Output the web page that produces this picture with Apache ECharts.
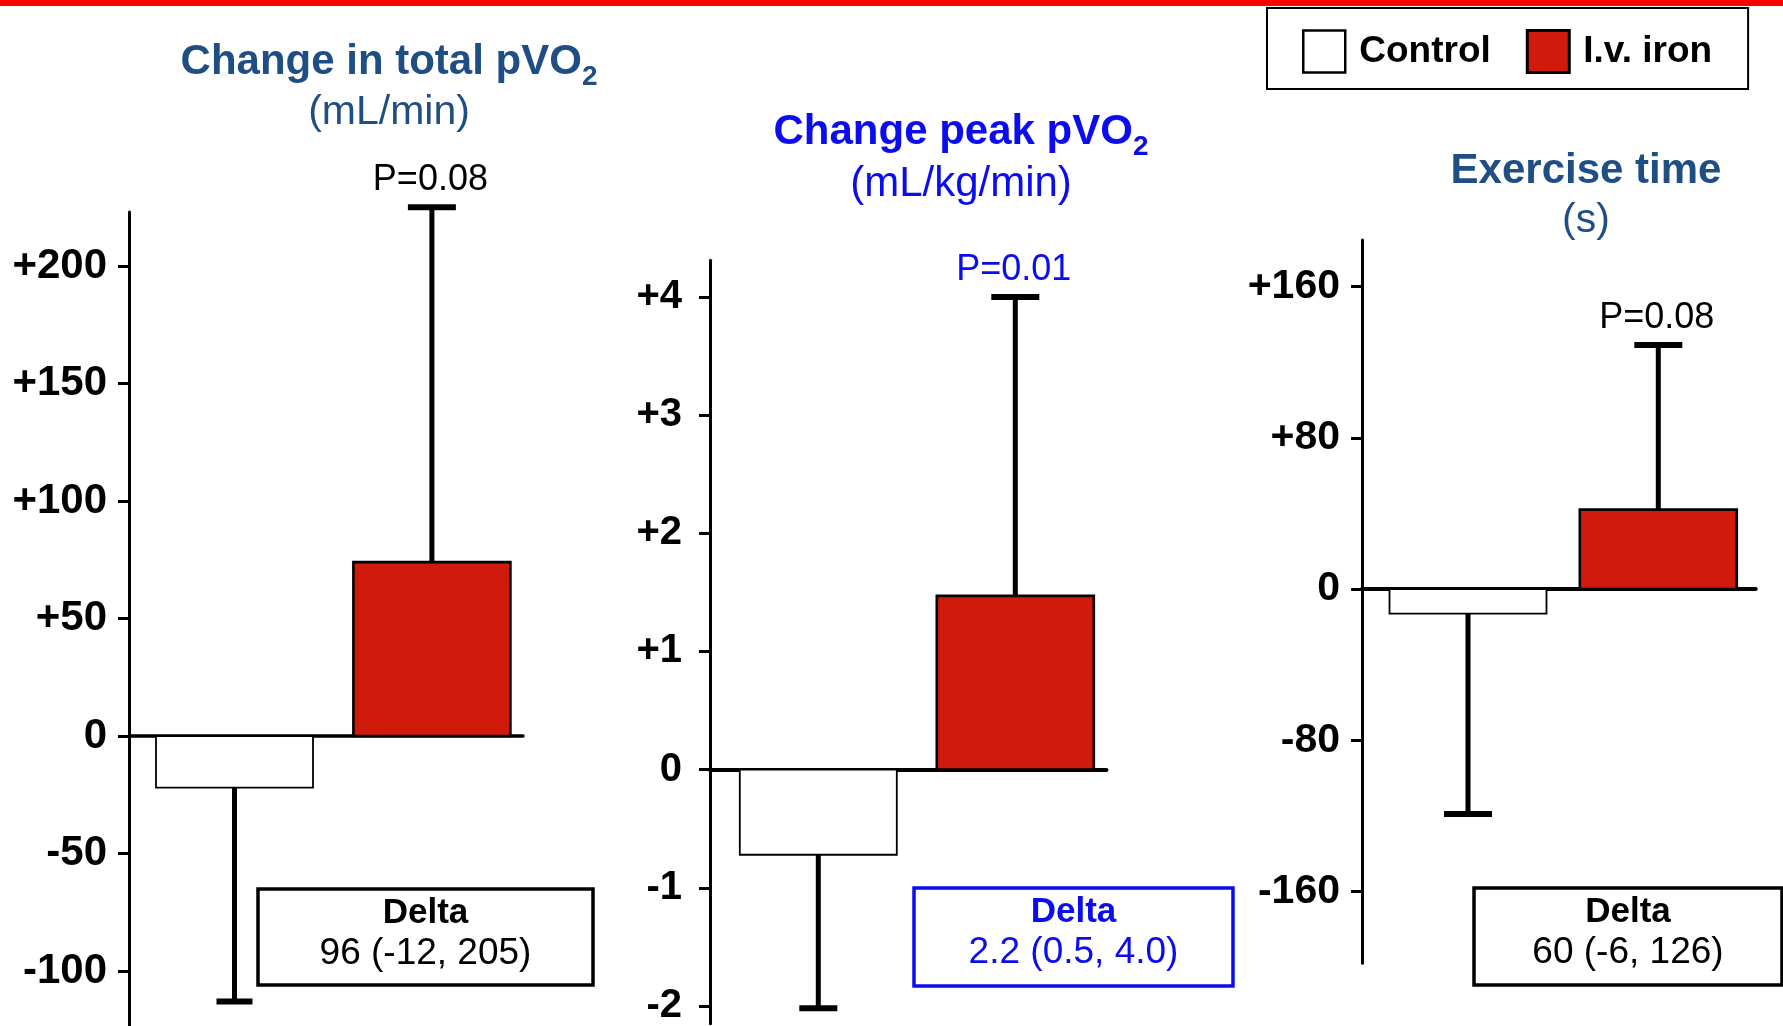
<!DOCTYPE html>
<html>
<head>
<meta charset="utf-8">
<script src="https://cdn.jsdelivr.net/npm/echarts@6/dist/echarts.min.js"></script>
<style>
  html, body { margin: 0; padding: 0; background: #ffffff; }
  #chart { width: 1783px; height: 1026px; }
</style>
</head>
<body>
<div id="chart"></div>
<script>
// ---- data ----
const groups = ['Control', 'I.v. iron'];

const totalMeans = [-22, 74];
const totalErrEnds = [-113, 225];
const totalTicks = [-100, -50, 0, 50, 100, 150, 200];

const peakMeans = [-0.72, 1.47];
const peakErrEnds = [-2.02, 4.0];
const peakTicks = [-2, -1, 0, 1, 2, 3, 4];

const exerciseMeans = [-13, 42];
const exerciseErrEnds = [-119, 129];
const exerciseTicks = [-160, -80, 0, 80, 160];

const titles = ['Change in total pVO', 'Change peak pVO', 'Exercise time'];
const titleSubscripts = ['2', '2', ''];
const units = ['(mL/min)', '(mL/kg/min)', '(s)'];
const pLabels = ['P=0.08', 'P=0.01', 'P=0.08'];
const deltaLabels = ['96 (-12, 205)', '2.2 (0.5, 4.0)', '60 (-6, 126)'];

// ---- styles ----
const FONT = "'Liberation Sans', Arial, Helvetica, sans-serif";
const STEEL = '#1F4E85';
const BLUE = '#0C0CF0';
const RED = '#D01A0C';
const groupFill = ['#ffffff', RED];
const groupBorder = [1.8, 2.6];

// ---- layout of the three panels (pixels) ----
const panels = [
  { means: totalMeans, errs: totalErrEnds, ticks: totalTicks,
    zeroY: 736, ppu: 2.35, yMax: 223, yMin: -123.4,
    axisX: 129, endX: 523, ctrlC: 234.5, ironC: 431.9, barW: 157, capW: [36, 48],
    tickFont: 42, labelMargin: 22, zeroW: 3.5,
    accent: STEEL, pColor: '#000', deltaColor: '#000',
    titleX: 389, titleY: 62, unitY: 113, unitFont: 41,
    box: [258, 889, 335, 96] },
  { means: peakMeans, errs: peakErrEnds, ticks: peakTicks,
    zeroY: 771, ppu: 118.5, yMax: 4.31, yMin: -2.15,
    axisX: 710, endX: 1106.5, ctrlC: 818.3, ironC: 1015.3, barW: 157, capW: [38, 48],
    tickFont: 40, labelMargin: 28, zeroW: 4,
    accent: BLUE, pColor: BLUE, deltaColor: BLUE,
    titleX: 961, titleY: 132, unitY: 184, unitFont: 42,
    box: [914, 888, 319, 98] },
  { means: exerciseMeans, errs: exerciseErrEnds, ticks: exerciseTicks,
    zeroY: 589, ppu: 1.8906, yMax: 184.6, yMin: -198,
    axisX: 1362, endX: 1755.7, ctrlC: 1468, ironC: 1658.3, barW: 157, capW: [48, 48],
    tickFont: 41, labelMargin: 22, zeroW: 4,
    accent: STEEL, pColor: '#000', deltaColor: '#000',
    titleX: 1586, titleY: 171, unitY: 221, unitFont: 41,
    box: [1474, 888, 308, 97] }
];
panels.forEach((p, i) => {
  p.title = titles[i]; p.sub = titleSubscripts[i]; p.unit = units[i];
  p.pLabel = pLabels[i]; p.delta = deltaLabels[i];
});

function tickText(v) {
  if (v > 0) return '+' + v;
  return String(v);
}

function makeRender(panel, gi) {
  return function (params, api) {
    const x = api.value(0), m = api.value(1), e = api.value(2);
    const p0 = api.coord([x, 0]);
    const pm = api.coord([x, m]);
    const pe = api.coord([x, e]);
    const cx = p0[0];
    const capW = panel.capW[gi];
    const children = [
      { type: 'line', shape: { x1: cx, y1: pm[1], x2: cx, y2: pe[1] },
        style: { stroke: '#000', lineWidth: 5 } },
      { type: 'rect', shape: { x: cx - capW / 2, y: pe[1] - 3, width: capW, height: 6 },
        style: { fill: '#000' } },
      { type: 'rect',
        shape: { x: cx - panel.barW / 2, y: Math.min(p0[1], pm[1]),
                 width: panel.barW, height: Math.abs(pm[1] - p0[1]) },
        style: { fill: groupFill[gi], stroke: '#000', lineWidth: groupBorder[gi] } }
    ];
    if (gi === 1) {
      children.push({ type: 'text', x: cx - 1.5, y: pe[1] - 27,
        style: { text: panel.pLabel, fill: panel.pColor, fontSize: 36, fontFamily: FONT,
                 align: 'center', verticalAlign: 'middle' } });
    }
    return { type: 'group', children: children };
  };
}

const grid = [], xAxis = [], yAxis = [], series = [], graphic = [];

// top red rule
graphic.push({ type: 'rect', shape: { x: 0, y: 0, width: 1783, height: 6 },
  style: { fill: '#FF0000' }, z: 10 });

panels.forEach((p, i) => {
  const unit = p.ironC - p.ctrlC;
  grid.push({ left: p.axisX, top: p.zeroY - p.yMax * p.ppu,
              width: p.endX - p.axisX, height: (p.yMax - p.yMin) * p.ppu });
  xAxis.push({ type: 'value', gridIndex: i,
    min: (p.axisX - p.ctrlC) / unit, max: (p.endX - p.ctrlC) / unit,
    axisLine: { show: true, onZero: true, lineStyle: { color: '#000', width: p.zeroW } },
    axisTick: { show: false }, axisLabel: { show: false }, splitLine: { show: false } });
  yAxis.push({ type: 'value', gridIndex: i, min: p.yMin, max: p.yMax,
    axisLine: { show: true, onZero: false, lineStyle: { color: '#000', width: 3 } },
    axisTick: { show: true, length: 11, customValues: p.ticks,
                lineStyle: { color: '#000', width: 3 } },
    axisLabel: { show: true, customValues: p.ticks, formatter: tickText,
                 margin: p.labelMargin, color: '#000', fontSize: p.tickFont,
                 fontWeight: 'bold', fontFamily: FONT, padding: [5, 0, 0, 0] },
    splitLine: { show: false } });

  groups.forEach((g, gi) => {
    series.push({ type: 'custom', name: g, xAxisIndex: i, yAxisIndex: i,
      itemStyle: { color: groupFill[gi], borderColor: '#000', borderWidth: groupBorder[gi] },
      renderItem: makeRender(p, gi),
      data: [[gi, p.means[gi], p.errs[gi]]],
      silent: true, z: 3 });
  });

  // panel title, with a lowered subscript
  const rich = {
    m: { fontSize: 42, fontWeight: 'bold', fontFamily: FONT, color: p.accent,
         lineHeight: 58, verticalAlign: 'middle' },
    s: { fontSize: 28, fontWeight: 'bold', fontFamily: FONT, color: p.accent,
         verticalAlign: 'bottom' }
  };
  graphic.push({ type: 'text', x: p.titleX, y: p.titleY,
    style: { text: p.sub ? '{m|' + p.title + '}{s|' + p.sub + '}' : '{m|' + p.title + '}',
             rich: rich, align: 'center', verticalAlign: 'middle', fill: p.accent } });
  graphic.push({ type: 'text', x: p.titleX, y: p.unitY,
    style: { text: p.unit, fill: p.accent, fontSize: p.unitFont, fontFamily: FONT,
             align: 'center', verticalAlign: 'middle' } });

  // delta box
  const b = p.box;
  graphic.push({ type: 'rect', shape: { x: b[0], y: b[1], width: b[2], height: b[3] },
    style: { fill: '#fff', stroke: p.deltaColor, lineWidth: 3.5 }, z: 5 });
  graphic.push({ type: 'text', x: b[0] + b[2] / 2, y: b[1] + 24,
    style: { text: 'Delta', fill: p.deltaColor, fontSize: 35, fontWeight: 'bold',
             fontFamily: FONT, align: 'center', verticalAlign: 'middle' }, z: 6 });
  graphic.push({ type: 'text', x: b[0] + b[2] / 2, y: b[1] + 65,
    style: { text: p.delta, fill: p.deltaColor, fontSize: 37,
             fontFamily: FONT, align: 'center', verticalAlign: 'middle' }, z: 6 });
});

const option = {
  animation: false,
  backgroundColor: '#ffffff',
  grid: grid, xAxis: xAxis, yAxis: yAxis, series: series, graphic: graphic,
  legend: {
    left: 1267, top: 8,
    padding: [21, 36, 15, 35],
    borderColor: '#000', borderWidth: 2,
    itemWidth: 42, itemHeight: 42, itemGap: 35,
    selectedMode: false,
    textStyle: { fontSize: 37, fontWeight: 'bold', color: '#000', fontFamily: FONT,
                 padding: [5, 0, 0, 9] },
    data: [
      { name: 'Control', icon: 'rect',
        itemStyle: { color: '#fff', borderColor: '#000', borderWidth: 2.5 } },
      { name: 'I.v. iron', icon: 'rect',
        itemStyle: { color: RED, borderColor: '#000', borderWidth: 3 } }
    ]
  }
};

const chart = echarts.init(document.getElementById('chart'), null, { renderer: 'canvas' });
chart.setOption(option);
</script>
</body>
</html>
